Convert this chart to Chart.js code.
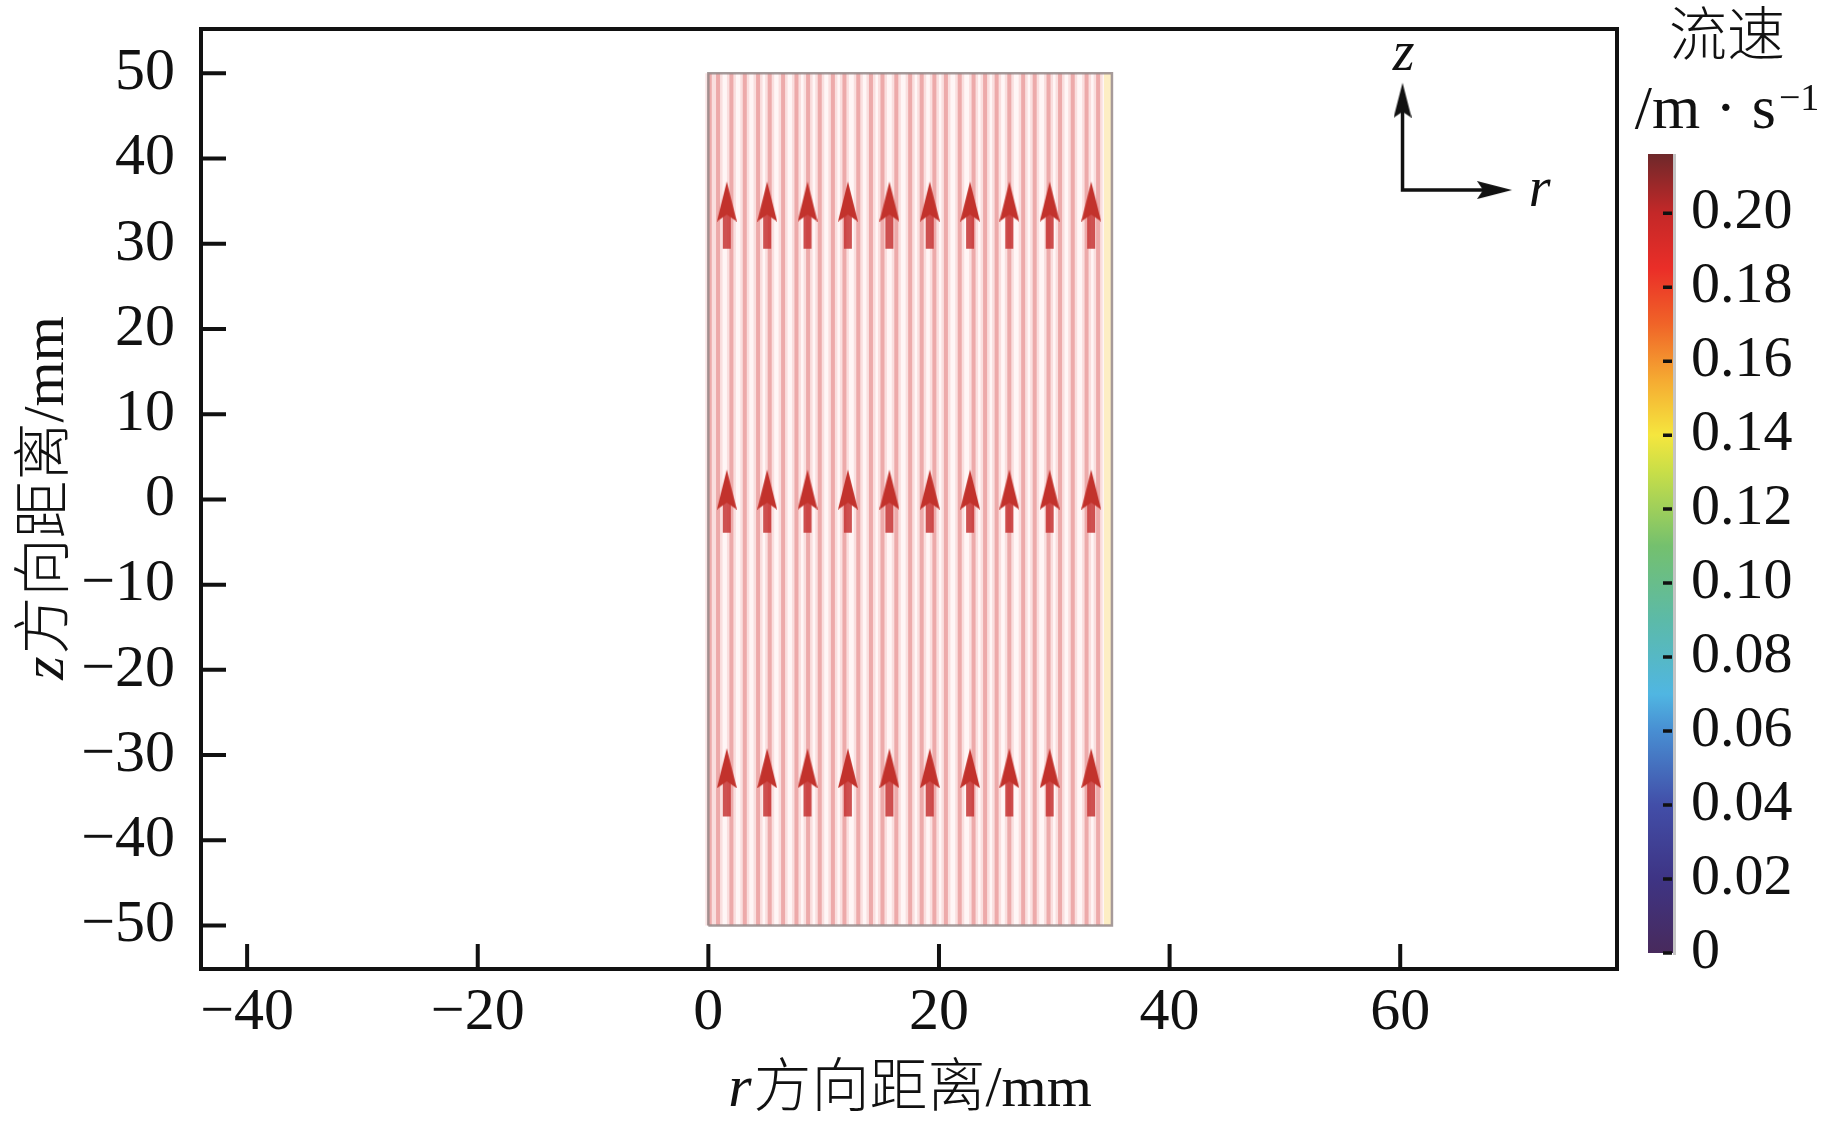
<!DOCTYPE html>
<html>
<head>
<meta charset="utf-8">
<script src="https://cdn.jsdelivr.net/npm/chart.js@4.4.1/dist/chart.umd.min.js"></script>
<style>
  html, body { margin: 0; padding: 0; background: #fff; }
  #wrap { position: relative; width: 1832px; height: 1121px; }
  #main { position: absolute; left: 0; top: 0; }
  #bar { position: absolute; left: 1620px; top: 0; }
</style>
</head>
<body>
<div id="wrap">
  <canvas id="main" width="1832" height="1121"></canvas>
  <canvas id="bar" width="212" height="1121"></canvas>
</div>
<script>
// axis ticks
const xTicks = [-40, -20, 0, 20, 40, 60];
const yTicks = [-50, -40, -30, -20, -10, 0, 10, 20, 30, 40, 50];
const xRange = [-44, 78.8];
const yRange = [-55.1, 55.2];

// flow domain (mm)
const cellR = [0, 35];
const cellZ = [-50, 50];
const wallR = [34.3, 34.95];

// streamline positions (r, mm)
const stripeR = [0.12, 0.84, 2.0, 3.16, 4.31, 5.32, 6.48, 7.64, 8.65, 9.66, 10.8, 11.8, 13.0, 14.1,
  15.1, 16.3, 17.5, 18.5, 19.6, 20.6, 21.8, 23.0, 24.0, 25.0, 26.1, 27.3, 28.3, 29.5, 30.5,
  31.6, 32.8, 33.8];

// velocity arrows
const arrowR = [1.6, 5.1, 8.6, 12.1, 15.7, 19.2, 22.7, 26.1, 29.6, 33.2];
const arrowTail = [-37.2, -3.9, 29.4];
const arrowTip = [-29.2, 3.5, 37.3];

// z / r direction glyph
const glyphCorner = [60.2, 36.3];
const glyphTipZ = 48.9;
const glyphTipR = 69.7;

// colour bar
const cbTicks = [0, 0.02, 0.04, 0.06, 0.08, 0.10, 0.12, 0.14, 0.16, 0.18, 0.20];
const cbMax = 0.216;
const cbVal = [0, 0.02, 0.04, 0.06, 0.07, 0.09, 0.11, 0.13, 0.14, 0.155, 0.17, 0.185, 0.20, 0.216];
const cbCol = ['rgb(72,42,92)', 'rgb(62,52,132)', 'rgb(66,78,168)', 'rgb(72,142,210)', 'rgb(80,182,226)',
  'rgb(92,186,168)', 'rgb(116,192,110)', 'rgb(200,222,72)', 'rgb(245,230,62)', 'rgb(245,170,50)',
  'rgb(240,100,40)', 'rgb(234,46,40)', 'rgb(196,40,40)', 'rgb(110,40,42)'];

const serif = "'Liberation Serif', 'Times New Roman', 'Noto Sans CJK SC', serif";
const cjk = "300 58px 'Liberation Serif', 'Noto Sans CJK SC', serif";

function headImg(w, h, notch, color) {
    // arrow head image, tip sits at the image centre
    const c = document.createElement('canvas');
    c.width = w;
    c.height = h * 2;
    const g = c.getContext('2d');
    g.fillStyle = color;
    g.beginPath();
    g.moveTo(w / 2, h);
    g.lineTo(w, 2 * h);
    g.lineTo(w / 2, 2 * h - notch);
    g.lineTo(0, 2 * h);
    g.closePath();
    g.fill();
    return c;
}

const redHead = headImg(20, 40, 7, 'rgb(194,50,44)');
const blackHead = headImg(18, 35, 6, '#111');

function lines(xs, y0, y1) {
    const pts = [];
    xs.forEach(r => {
        pts.push({x: r, y: y0}, {x: r, y: y1}, {x: r, y: null});
    });
    return pts;
}

const shaftPts = [];
const headPts = [];
arrowTail.forEach((t, i) => {
    arrowR.forEach(r => {
        shaftPts.push({x: r, y: t}, {x: r, y: arrowTip[i] - 2.5}, {x: r, y: null});
        headPts.push({x: r, y: arrowTip[i]});
    });
});

const minus = v => (v < 0 ? '\u2212' + Math.abs(v) : String(v));

const framePlugin = {
    id: 'frame',
    afterDraw(chart) {
        const {ctx, chartArea: a, scales} = chart;
        const xs = scales.x, ys = scales.y;
        ctx.save();

        // glyph letters
        ctx.fillStyle = '#111';
        ctx.font = 'italic 56px ' + serif;
        ctx.textAlign = 'center';
        ctx.textBaseline = 'middle';
        ctx.fillText('z', xs.getPixelForValue(glyphCorner[0] + 0.1), ys.getPixelForValue(glyphTipZ + 3.2));
        ctx.fillText('r', xs.getPixelForValue(glyphTipR + 2.4), ys.getPixelForValue(glyphCorner[1] - 0.2));

        // frame
        ctx.strokeStyle = '#111';
        ctx.lineWidth = 4;
        ctx.strokeRect(a.left, a.top, a.right - a.left, a.bottom - a.top);

        // inward ticks
        ctx.beginPath();
        yTicks.forEach(v => {
            const p = ys.getPixelForValue(v);
            ctx.moveTo(a.left, p);
            ctx.lineTo(a.left + 25, p);
        });
        xTicks.forEach(v => {
            const p = xs.getPixelForValue(v);
            ctx.moveTo(p, a.bottom);
            ctx.lineTo(p, a.bottom - 25);
        });
        ctx.stroke();

        // axis titles
        ctx.textAlign = 'left';
        ctx.textBaseline = 'alphabetic';
        const drawTitle = (lead, rest) => {
            ctx.font = 'italic 60px ' + serif;
            const w1 = ctx.measureText(lead).width;
            ctx.font = cjk;
            const w2 = ctx.measureText(rest).width;
            const x0 = -(w1 + w2) / 2;
            ctx.font = 'italic 60px ' + serif;
            ctx.fillText(lead, x0, 0);
            ctx.font = cjk;
            ctx.fillText(rest, x0 + w1 + 2, 0);
        };
        ctx.save();
        ctx.translate((a.left + a.right) / 2, a.bottom + 137);
        drawTitle('r', '方向距离/mm');
        ctx.restore();
        ctx.save();
        ctx.translate(a.left - 138, (a.top + a.bottom) / 2);
        ctx.rotate(-Math.PI / 2);
        drawTitle('z', '方向距离/mm');
        ctx.restore();

        ctx.restore();
    }
};

new Chart(document.getElementById('main'), {
    type: 'scatter',
    data: {
        datasets: [{
            // cell background
            data: [{x: cellR[0], y: cellZ[1]}, {x: cellR[1], y: cellZ[1]}],
            showLine: true,
            fill: {value: cellZ[0]},
            backgroundColor: 'rgb(255,246,246)',
            borderWidth: 0,
            pointRadius: 0,
            order: 10
        }, {
            // streamline halo
            data: lines(stripeR, cellZ[0], cellZ[1]),
            showLine: true,
            spanGaps: false,
            borderColor: 'rgba(244,196,196,0.45)',
            borderWidth: 9,
            pointRadius: 0,
            order: 9
        }, {
            // streamline core
            data: lines(stripeR, cellZ[0], cellZ[1]),
            showLine: true,
            spanGaps: false,
            borderColor: 'rgba(234,156,156,0.8)',
            borderWidth: 4,
            pointRadius: 0,
            order: 8
        }, {
            // outer wall strip
            data: [{x: wallR[0], y: cellZ[1]}, {x: wallR[1], y: cellZ[1]}],
            showLine: true,
            fill: {value: cellZ[0]},
            backgroundColor: 'rgb(253,238,196)',
            borderWidth: 0,
            pointRadius: 0,
            order: 7
        }, {
            // cell outline
            data: [{x: cellR[0], y: cellZ[0]}, {x: cellR[0], y: cellZ[1]}, {x: cellR[1], y: cellZ[1]},
                {x: cellR[1], y: cellZ[0]}, {x: cellR[0], y: cellZ[0]}],
            showLine: true,
            borderColor: 'rgba(150,138,138,0.85)',
            borderWidth: 2.5,
            pointRadius: 0,
            order: 6
        }, {
            // arrow shafts
            data: shaftPts,
            showLine: true,
            spanGaps: false,
            borderColor: 'rgba(198,52,52,0.85)',
            borderWidth: 8,
            borderCapStyle: 'butt',
            pointRadius: 0,
            order: 5
        }, {
            // arrow heads
            data: headPts,
            pointStyle: redHead,
            pointRadius: 5,
            order: 4
        }, {
            // z / r glyph
            data: [{x: glyphCorner[0], y: glyphTipZ - 2}, {x: glyphCorner[0], y: glyphCorner[1]},
                {x: glyphTipR - 1.5, y: glyphCorner[1]}],
            showLine: true,
            borderColor: '#111',
            borderWidth: 3.5,
            borderJoinStyle: 'miter',
            pointRadius: 0,
            order: 3
        }, {
            data: [{x: glyphCorner[0], y: glyphTipZ}, {x: glyphTipR, y: glyphCorner[1]}],
            pointStyle: blackHead,
            rotation: [0, 90],
            pointRadius: 5,
            order: 2
        }]
    },
    options: {
        responsive: false,
        animation: false,
        events: [],
        layout: {padding: {left: 0, top: 29, right: 215, bottom: 0}},
        plugins: {legend: {display: false}, tooltip: {enabled: false}},
        scales: {
            x: {
                type: 'linear',
                min: xRange[0],
                max: xRange[1],
                afterFit: s => {
                    s.height = 152;
                    s.paddingLeft = 0;
                    s.paddingRight = 0;
                },
                afterBuildTicks: s => { s.ticks = xTicks.map(v => ({value: v})); },
                grid: {display: false, drawTicks: false},
                border: {display: false},
                ticks: {
                    font: {family: serif, size: 60},
                    color: '#111',
                    padding: 8,
                    maxRotation: 0,
                    autoSkip: false,
                    callback: minus
                }
            },
            y: {
                type: 'linear',
                min: yRange[0],
                max: yRange[1],
                afterFit: s => {
                    s.width = 201;
                    s.paddingTop = 0;
                    s.paddingBottom = 0;
                },
                afterBuildTicks: s => { s.ticks = yTicks.map(v => ({value: v})); },
                grid: {display: false, drawTicks: false},
                border: {display: false},
                ticks: {
                    font: {family: serif, size: 60},
                    color: '#111',
                    padding: 26,
                    autoSkip: false,
                    callback: minus
                }
            }
        }
    },
    plugins: [framePlugin]
});

function cbGradient(c) {
    const chart = c.chart;
    if (!chart.chartArea) return cbCol[0];
    const y = chart.scales.y;
    const g = chart.ctx.createLinearGradient(0, y.getPixelForValue(0), 0, y.getPixelForValue(cbMax));
    cbVal.forEach((v, i) => g.addColorStop(v / cbMax, cbCol[i]));
    return g;
}

const cbPlugin = {
    id: 'cbExtras',
    afterDraw(chart) {
        const {ctx, chartArea: a, scales} = chart;
        ctx.save();
        ctx.strokeStyle = 'rgba(190,190,190,0.9)';
        ctx.lineWidth = 3;
        ctx.beginPath();
        ctx.moveTo(a.right + 1.5, a.top);
        ctx.lineTo(a.right + 1.5, a.bottom + 2);
        ctx.stroke();

        ctx.strokeStyle = '#111';
        ctx.lineWidth = 3.5;
        ctx.beginPath();
        cbTicks.forEach(v => {
            const p = scales.y.getPixelForValue(v);
            ctx.moveTo(a.right - 10, p);
            ctx.lineTo(a.right - 1, p);
        });
        ctx.stroke();

        // title
        ctx.fillStyle = '#111';
        ctx.textAlign = 'center';
        ctx.textBaseline = 'middle';
        ctx.font = cjk;
        ctx.fillText('流速', 107, 40);

        ctx.textAlign = 'left';
        ctx.textBaseline = 'alphabetic';
        const mainTxt = '/m \u00b7 s';
        const supTxt = '\u22121';
        ctx.font = '62px ' + serif;
        const w1 = ctx.measureText(mainTxt).width;
        ctx.font = '38px ' + serif;
        const w2 = ctx.measureText(supTxt).width;
        const x0 = 107 - (w1 + w2 + 3) / 2;
        ctx.font = '62px ' + serif;
        ctx.fillText(mainTxt, x0, 128);
        ctx.font = '38px ' + serif;
        ctx.fillText(supTxt, x0 + w1 + 3, 110);
        ctx.restore();
    }
};

new Chart(document.getElementById('bar'), {
    type: 'bar',
    data: {
        labels: [''],
        datasets: [{
            data: [[0, cbMax]],
            backgroundColor: cbGradient,
            borderWidth: 0,
            barPercentage: 1,
            categoryPercentage: 1
        }]
    },
    options: {
        responsive: false,
        animation: false,
        events: [],
        layout: {padding: {left: 28, top: 154, right: 0, bottom: 168}},
        plugins: {legend: {display: false}, tooltip: {enabled: false}},
        scales: {
            x: {display: false},
            y: {
                position: 'right',
                min: 0,
                max: cbMax,
                afterFit: s => {
                    s.width = 159;
                    s.paddingTop = 0;
                    s.paddingBottom = 0;
                },
                afterBuildTicks: s => { s.ticks = cbTicks.map(v => ({value: v})); },
                grid: {display: false, drawTicks: false},
                border: {display: false},
                ticks: {
                    font: {family: serif, size: 58},
                    color: '#111',
                    padding: 18,
                    autoSkip: false,
                    callback: v => (v === 0 ? '0' : v.toFixed(2))
                }
            }
        }
    },
    plugins: [cbPlugin]
});
</script>
</body>
</html>
